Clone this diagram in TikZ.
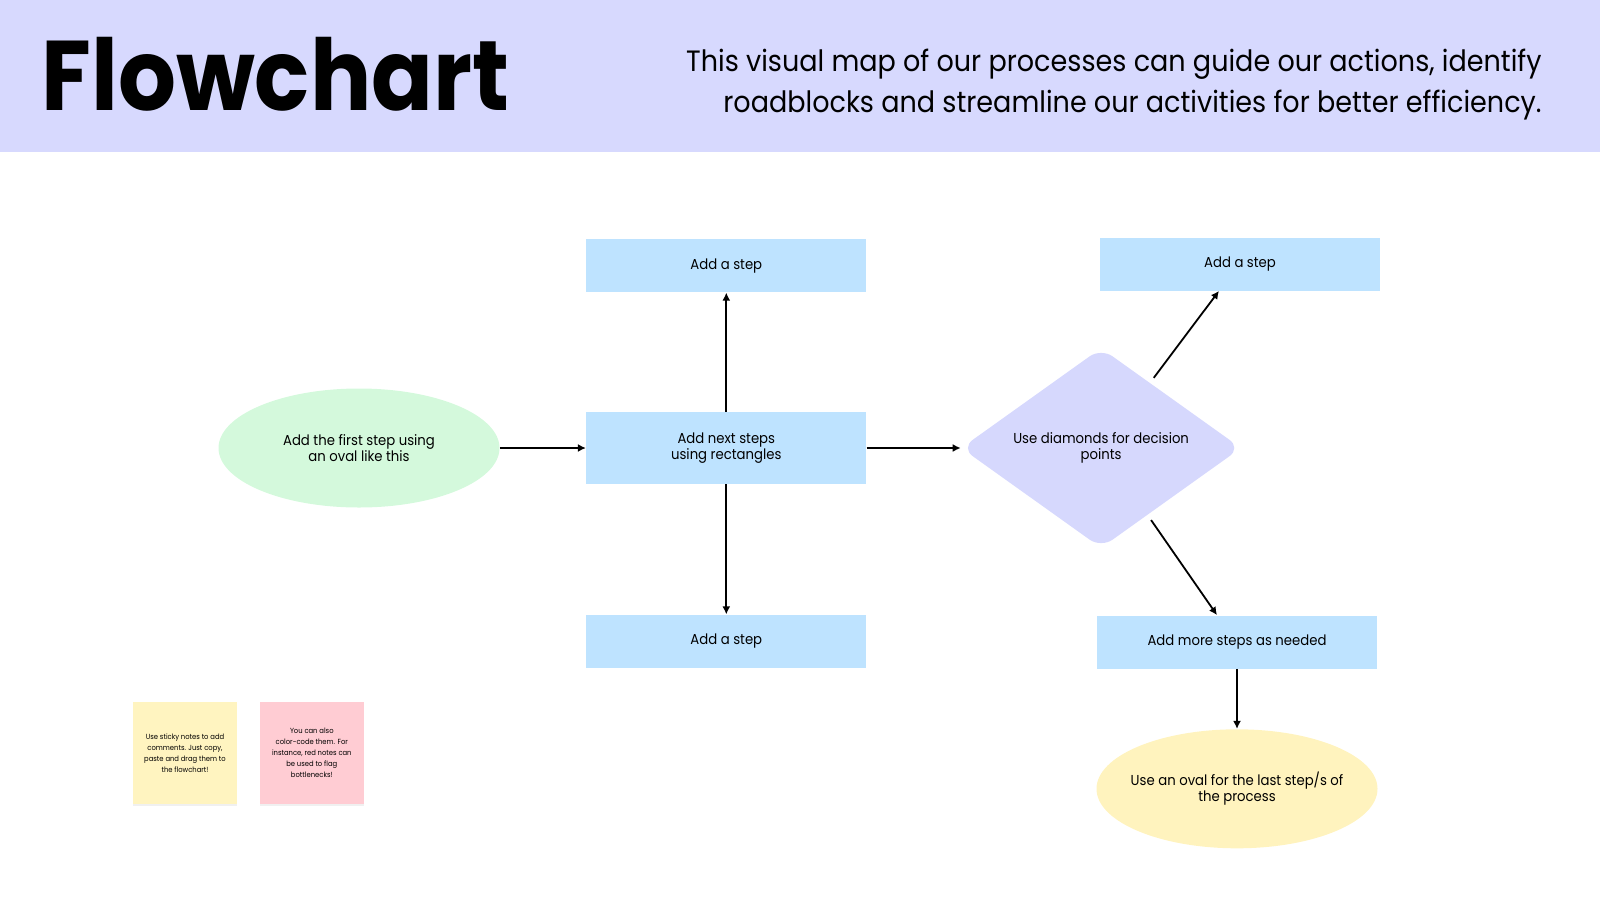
\documentclass[tikz,border=0pt]{standalone}
\usepackage{fontspec}
\setmainfont{Poppins}[FakeStretch=0.92]
\usetikzlibrary{shapes.geometric, arrows.meta, positioning, shadows}

\definecolor{headbg}{HTML}{D7D9FE}
\definecolor{stepblue}{HTML}{BEE3FF}
\definecolor{startgreen}{HTML}{D4F9DC}
\definecolor{endyellow}{HTML}{FFF3BE}
\definecolor{decpurple}{HTML}{D6D8FD}
\definecolor{noteyellow}{HTML}{FFF4C0}
\definecolor{notepink}{HTML}{FFCCD3}

\begin{document}
\begin{tikzpicture}[
    x=0.5pt, y=-0.5pt,
    node distance=40pt,
    stepbox/.style={rectangle, fill=stepblue, minimum width=140pt, minimum height=26.5pt, inner sep=0pt, align=center, font=\fontsize{7.2}{8.2}\selectfont},
    oval/.style={ellipse, minimum width=140.5pt, minimum height=59.5pt, inner sep=0pt, inner xsep=-4pt, align=center, font=\fontsize{7.2}{8.2}\selectfont},
    decision/.style={diamond, aspect=1.4, fill=decpurple, rounded corners=7pt, minimum width=140pt, minimum height=100pt, inner sep=0pt, align=center, font=\fontsize{7.2}{8.2}\selectfont},
    sticky/.style={rectangle, minimum width=52pt, minimum height=51pt, inner sep=0pt, align=center, font=\fontsize{3.7}{5.5}\selectfont, drop shadow={shadow xshift=0pt, shadow yshift=-1.2pt, opacity=0.12}},
    arrow/.style={-{Latex[length=4pt, width=4pt]}, line width=0.9pt, black}
]
\useasboundingbox (0,0) rectangle (1600,900);

% Header
\fill[headbg] (0,0) rectangle (1600,152);
\node[anchor=base west, inner sep=0pt, font=\fontsize{49.5}{50}\selectfont\bfseries] (title) at (41,110) {Flowchart};
\node[anchor=north east, inner sep=0pt, align=right, font=\fontsize{14.7}{20.5}\selectfont] (intro) at (1542,49)
    {This visual map of our processes can guide our actions, identify\\roadblocks and streamline our activities for better efficiency.};

% Start
\node[oval, fill=startgreen] (start) at (359,448) {Add the first step using\\an oval like this};

% Steps
\node[stepbox, minimum height=36pt, right=43pt of start] (next) {Add next steps\\using rectangles};
\node[stepbox, above=59.5pt of next] (stepup) {Add a step};
\node[stepbox, below=65pt of next] (stepdown) {Add a step};

% Decision
\node[decision, right=47pt of next] (dec) {Use diamonds for decision\\points};

% Branches
\node[stepbox] (yes) at (1240,264) {Add a step};
\node[stepbox] (more) at (1237,642) {Add more steps as needed};
\node[oval, fill=endyellow, below=30pt of more] (finish) {Use an oval for the last step/s of\\the process};

% Sticky notes
\node[sticky, fill=noteyellow] (note1) at (185,753) {Use sticky notes to add\\comments. Just copy,\\paste and drag them to\\the flowchart!};
\node[sticky, fill=notepink, right=11pt of note1] (note2) {You can also\\color-code them. For\\instance, red notes can\\be used to flag\\bottlenecks!};

\coordinate (yesin) at ([xshift=-10.5pt]yes.south);
\coordinate (morein) at ([xshift=-10pt]more.north);

% Arrows
\draw[arrow] (start) -- (next);
\draw[arrow] (next) -- (stepup);
\draw[arrow] (next) -- (stepdown);
\draw[arrow] (next) -- (dec);
\draw[arrow, shorten <=3pt] (dec) -- (yesin);
\draw[arrow, shorten <=3pt] (dec) -- (morein);
\draw[arrow] (more) -- (finish);

\end{tikzpicture}
\end{document}
